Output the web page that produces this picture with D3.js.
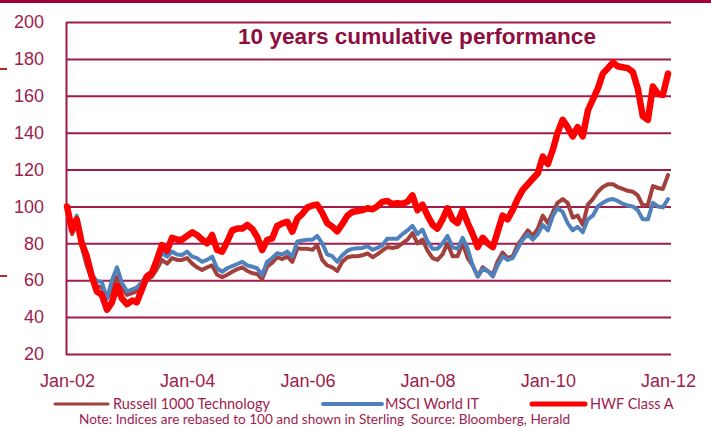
<!DOCTYPE html>
<html>
<head>
<meta charset="utf-8">
<script src="https://cdn.jsdelivr.net/npm/d3@7"></script>
<style>
  body { margin: 0; background: #fff; }
  svg { display: block; font-family: Lato, "Open Sans", sans-serif; }
</style>
</head>
<body>
<svg id="chart" width="711" height="428"></svg>
<script>
// monthly values, Jan-02 .. Jan-12, rebased to 100
const russell = [
    100, 85, 93, 78, 68, 60, 57, 56, 50, 55, 62, 56,
    52, 53, 54, 57, 60, 62, 66, 71, 69, 72, 71, 71,
    72, 69, 67, 65.5, 67, 68, 63, 61.7, 63, 64.6, 66, 67,
    65, 63.8, 63.4, 60.6, 67.3, 69.5, 72.5, 71.5, 72.8, 70, 77.3, 77,
    77, 76.5, 79, 71, 68, 67, 65, 70, 72.5, 73, 73, 73.5,
    74.5, 72.5, 74, 76, 78, 77.5, 78, 80, 82, 85.5, 80, 82,
    76, 72, 71, 74, 80, 73, 73, 80, 72, 68, 62, 67,
    65, 63, 70, 75, 72, 73, 79, 83, 87, 84, 88, 95,
    91, 97, 102, 104, 102, 94, 95, 90, 101, 104, 108, 110.5,
    112, 112, 110.5, 109.5, 108.5, 108, 106, 100.5, 101, 111, 110, 109.5,
    117
];
const msci = [
    100, 88, 95, 79, 70, 63, 59.6, 59, 50, 60, 67, 58.5,
    54, 55, 56, 59, 63, 64.5, 69, 74.7, 72.8, 75.5, 74, 73.7,
    75.5, 72.8, 72, 70, 71, 72.8, 66.5, 64.6, 66.5, 67.7, 68.8, 70,
    68, 67.3, 66.5, 62.8, 70, 72, 74.6, 74, 75.5, 72.8, 81, 81.5,
    82, 82, 84, 80, 74, 73, 70, 73.5, 76, 77, 77.3, 77.5,
    78.5, 76.5, 77.5, 79, 82.5, 82.5, 82.5, 85, 87, 89.5, 85, 87.5,
    81, 77, 77, 80, 84, 78, 77, 83, 77, 68, 62, 66,
    65, 62, 68, 73, 71, 72, 77, 82, 85, 82, 85, 90,
    87, 95, 99, 97, 91, 87, 89, 86, 93, 95, 100, 102,
    103.5, 104, 103, 101.5, 100.5, 100, 98, 93, 93, 102, 100, 99.5,
    104
];
const hwf = [
    100, 87, 93, 80, 73, 62, 54, 52, 44, 48, 57, 50,
    47, 49, 48, 55, 62, 64, 71, 79, 76, 83, 82, 82,
    84, 86, 84.5, 82, 80, 84.5, 76.4, 75.5, 81, 87, 88, 88,
    90, 87.6, 83.6, 76.4, 81.8, 82.7, 89.4, 90.8, 91.7, 86.3, 93.5, 96,
    99.5, 100.5, 101, 96.5, 91, 89, 86.5, 90.5, 95, 97, 97.5, 98,
    99, 98.5, 100, 102.5, 103, 101.3, 101.7, 101.5, 102.6, 106, 98, 101,
    95, 90, 88, 93, 99, 93, 91, 98, 91, 85, 78, 83,
    80, 78, 86, 95, 93, 98, 104, 109, 112, 115, 118, 127,
    123, 131, 140, 147, 143, 138, 143, 138, 152, 158, 164, 172,
    175, 178, 176, 175.5, 175, 173, 164, 149, 147, 165, 161, 160.5,
    172
];
const seriesNames = ['Russell 1000 Technology', 'MSCI World IT', 'HWF Class A'];
const yTicks = [20, 40, 60, 80, 100, 120, 140, 160, 180, 200];
const xTickYears = [2002, 2004, 2006, 2008, 2010, 2012];

const gridColor = '#a01a4c';
const textColor = '#9e1c4e';

const svg = d3.select('#chart');
const startDate = new Date(2002, 0, 1);
const months = d3.range(hwf.length).map((i) => d3.timeMonth.offset(startDate, i));

const x = d3.scaleTime()
    .domain([startDate, new Date(2012, 0, 1)])
    .range([67, 668]);
const y = d3.scaleLinear()
    .domain([20, 200])
    .range([354, 22]);

// top bar
svg.append('rect')
    .attr('x', 0).attr('y', 0)
    .attr('width', 711).attr('height', 3)
    .attr('fill', '#a0003a');

// small margin marks on the left edge
[69, 276].forEach((yy) => {
    svg.append('line')
        .attr('x1', 0).attr('x2', 7)
        .attr('y1', yy).attr('y2', yy)
        .attr('stroke', '#a3302c')
        .attr('stroke-width', 2);
});

// y axis with gridlines
const yAxis = svg.append('g')
    .attr('transform', 'translate(66,0)')
    .call(d3.axisLeft(y)
        .tickValues(yTicks)
        .tickSizeInner(-605)
        .tickSizeOuter(0)
        .tickPadding(22));
yAxis.select('.domain').attr('stroke', gridColor).attr('stroke-width', 2);
yAxis.selectAll('.tick line').attr('stroke', gridColor).attr('stroke-width', 2);
yAxis.selectAll('.tick text')
    .attr('fill', textColor)
    .style('font-size', '18px');

// x axis labels
const xAxis = svg.append('g')
    .attr('transform', 'translate(0,354)')
    .call(d3.axisBottom(x)
        .tickValues(xTickYears.map((yr) => new Date(yr, 0, 1)))
        .tickFormat(d3.timeFormat('%b-%y'))
        .tickSize(0)
        .tickPadding(20));
xAxis.select('.domain').remove();
xAxis.selectAll('.tick text')
    .attr('fill', textColor)
    .style('font-size', '18px');

// title
svg.append('text')
    .attr('x', 417).attr('y', 44)
    .attr('text-anchor', 'middle')
    .attr('fill', '#8c0f3f')
    .style('font-family', '"Liberation Sans", Arial, sans-serif')
    .style('font-weight', 'bold')
    .style('font-size', '22.6px')
    .text('10 years cumulative performance');

// lines
const line = d3.line()
    .x((d, i) => x(months[i]))
    .y((d) => y(d));

const series = [
    { values: russell, color: '#a2403c', width: 4 },
    { values: msci, color: '#4f81bd', width: 4 },
    { values: hwf, color: '#ff0000', width: 6.5 }
];
series.forEach((s) => {
    svg.append('path')
        .datum(s.values)
        .attr('fill', 'none')
        .attr('stroke', s.color)
        .attr('stroke-width', s.width)
        .attr('stroke-linejoin', 'round')
        .attr('stroke-linecap', 'round')
        .attr('d', line);
});

// legend
const legendPos = [
    { x1: 55, x2: 108, tx: 113, width: 3 },
    { x1: 323, x2: 382, tx: 385, width: 4 },
    { x1: 532, x2: 585, tx: 590, width: 5 }
];
series.forEach((s, i) => {
    const p = legendPos[i];
    svg.append('line')
        .attr('x1', p.x1).attr('x2', p.x2)
        .attr('y1', 404).attr('y2', 404)
        .attr('stroke', s.color)
        .attr('stroke-width', p.width)
        .attr('stroke-linecap', 'round');
    svg.append('text')
        .attr('x', p.tx).attr('y', 404)
        .attr('dy', '0.35em')
        .attr('fill', textColor)
        .style('font-size', '14.5px')
        .text(seriesNames[i]);
});

svg.append('text')
    .attr('x', 79).attr('y', 419)
    .attr('dy', '0.35em')
    .attr('fill', textColor)
    .style('font-size', '13.6px')
    .attr('xml:space', 'preserve')
    .text('Note: Indices are rebased to 100 and shown in Sterling  Source: Bloomberg, Herald');
</script>
</body>
</html>
